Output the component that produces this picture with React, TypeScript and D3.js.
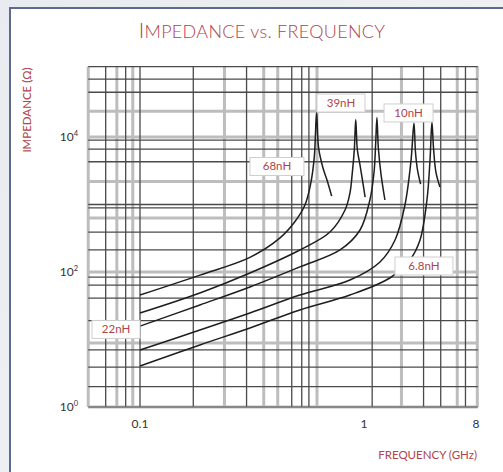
import React from "react";
import * as d3 from "d3";

// ---- data ----
const xTickValues = [0.1, 1.84, 7.9];
const xTickLabels = ["0.1", "1", "8"];
const yTickValues = [1, 100, 10000];
const yTickExps = ["0", "2", "4"];

const xGridDark = [0.064, 0.083, 0.1, 0.2, 0.4, 0.72, 0.82, 0.9, 2.05, 4, 5, 6.9];
const xGridGray = [0.051, 0.074, 0.091, 0.3, 0.5, 0.6, 1.0, 3.0, 6.2, 8.05];
const yGridDark = [2, 3.9, 7, 19, 41, 64, 84, 212, 391, 890, 1000, 4300, 6600, 9000, 46000, 72000, 110000];
const yGridGray = [1, 8.9, 100, 630, 2200, 10000, 24000];

const s68 = [[0.1, 45.6], [0.218, 90], [0.418, 165], [0.618, 320], [0.751, 560], [0.855, 984], [0.92, 2000], [0.965, 5000], [0.995, 23000], [1.02, 7000], [1.08, 3500], [1.139, 2300], [1.21, 1330]];
const s39 = [[0.1, 24.7], [0.218, 48.9], [0.418, 96.7], [0.8, 212], [1.184, 391], [1.44, 829], [1.535, 1480], [1.58, 2800], [1.625, 6500], [1.655, 18100], [1.69, 6500], [1.75, 3846], [1.87, 1291]];
const s22 = [[0.1, 15.8], [0.218, 32.5], [0.418, 60], [0.8, 119], [1.349, 212], [1.75, 419], [1.99, 1166], [2.1, 3000], [2.145, 8000], [2.18, 19500], [2.22, 7000], [2.3, 2800], [2.42, 1166]];
const s10 = [[0.1, 7.0], [0.218, 13.8], [0.418, 24.7], [0.8, 45.6], [1.535, 76], [2.27, 141], [2.76, 298], [3.14, 984], [3.4, 4565], [3.53, 16100], [3.6, 6000], [3.7, 3200], [3.85, 2000]];
const s68b = [[0.1, 4.05], [0.218, 8.3], [0.418, 14.8], [0.8, 27.4], [1.535, 45.6], [2.58, 81.5], [3.35, 151], [3.82, 298], [4.18, 1166], [4.35, 4565], [4.46, 16700], [4.55, 7000], [4.7, 3000], [4.95, 1816]];
const seriesList = [s68, s39, s22, s10, s68b];

const labelNames = ["68nH", "39nH", "10nH", "22nH", "6.8nH"];
const labelF = [0.594, 1.366, 3.29, 0.0732, 4.02];
const labelZ = [3656, 31900, 22700, 14.1, 122.7];

// ---- layout ----
const W = 503, H = 472;
const red = "#b0434b";
const font = "Lato, 'Open Sans', sans-serif";

export default function App() {
  const x = d3.scaleLog().domain([0.1, 8]).range([140, 140 + 177 * Math.log10(80)]);
  const y = d3.scaleLog().domain([1, 100000]).range([407, 69.5]);
  const x0 = x(0.051), x1 = x(8.1);
  const y0 = 407, y1 = 66.5;
  const line = d3.line<number[]>().x(d => x(d[0])).y(d => y(d[1])).curve(d3.curveCatmullRom.alpha(0.5));
  const labelW = [54, 48, 49, 48, 58];

  return (
    <svg width={W} height={H} style={{ position: "absolute", left: 0, top: 0, fontFamily: font }}>
      <defs>
        <linearGradient id="bg" x1="0" y1="0" x2="1" y2="1">
          <stop offset="0" stopColor="#e8ebef" />
          <stop offset="1" stopColor="#f3f4f6" />
        </linearGradient>
      </defs>
      <rect width={W} height={H} fill="url(#bg)" />
      <rect x={10} y={8} width={W} height={H} fill="#fff" />
      <line x1={10} x2={10} y1={7} y2={H} stroke="#5d6c8a" strokeWidth={2} />
      <line x1={9} x2={W} y1={8} y2={8} stroke="#5d6c8a" strokeWidth={2} />

      <text x={262} y={38} textAnchor="middle" fill={red} fontSize={18} fontWeight={300} letterSpacing={0.3}>
        <tspan fontSize={21}>I</tspan>MPEDANCE vs. FREQUENCY
      </text>

      {/* grid */}
      <g>
        {yGridGray.map((v, i) => (
          <line key={"yg" + i} x1={x0} x2={x1} y1={y(v)} y2={y(v)} stroke="#bdbdbd" strokeWidth={3} />
        ))}
        {xGridGray.map((v, i) => (
          <line key={"xg" + i} x1={x(v)} x2={x(v)} y1={y1} y2={y0} stroke="#bdbdbd" strokeWidth={3} />
        ))}
        {yGridDark.map((v, i) => (
          <line key={"yd" + i} x1={x0} x2={x1} y1={Math.max(y(v), y1)} y2={Math.max(y(v), y1)} stroke="#4a4a4a" strokeWidth={1.3} />
        ))}
        {xGridDark.map((v, i) => (
          <line key={"xd" + i} x1={x(v)} x2={x(v)} y1={y1} y2={y0} stroke="#4a4a4a" strokeWidth={1.3} />
        ))}
        <line x1={x0} x2={x1} y1={y0} y2={y0} stroke="#777" strokeWidth={1.5} />
      </g>

      {/* curves */}
      {seriesList.map((s, i) => (
        <path key={"s" + i} d={line(s) || ""} fill="none" stroke="#1e1e1e" strokeWidth={1.5} />
      ))}

      {/* labels */}
      {labelNames.map((n, i) => (
        <g key={"l" + i} transform={`translate(${x(labelF[i])},${y(labelZ[i])})`}>
          <rect x={-labelW[i] / 2} y={-9} width={labelW[i]} height={18} fill="#fff" stroke="#cfcfcf" strokeWidth={1} />
          <text x={0} y={4} textAnchor="middle" fill={red} fontSize={11.5}>{n}</text>
        </g>
      ))}

      {/* axes labels */}
      {yTickValues.map((v, i) => (
        <text key={"yt" + i} x={78} y={y(v) + 4} textAnchor="end" fill="#333" fontSize={12}>
          10<tspan fontSize={7.5} dy={-5}>{yTickExps[i]}</tspan>
        </text>
      ))}
      {xTickValues.map((v, i) => (
        <text key={"xt" + i} x={x(v)} y={428} textAnchor="middle" fill="#333" fontSize={12}>{xTickLabels[i]}</text>
      ))}
      <text x={477} y={459} textAnchor="end" fill={red} fontSize={11.5}>FREQUENCY (GHz)</text>
      <text transform="translate(31,110) rotate(-90)" textAnchor="middle" fill={red} fontSize={11.5}>IMPEDANCE (Ω)</text>
    </svg>
  );
}
